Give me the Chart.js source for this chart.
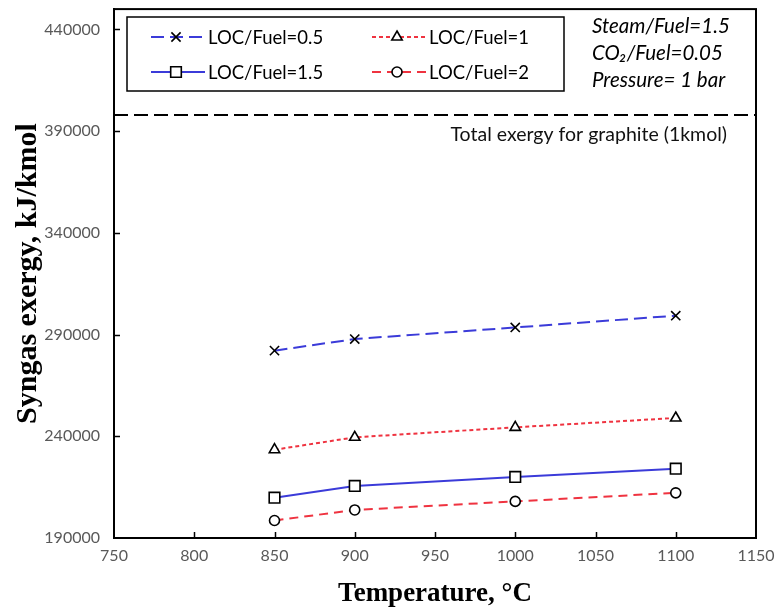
<!DOCTYPE html>
<html>
<head>
<meta charset="utf-8">
<script src="https://cdn.jsdelivr.net/npm/chart.js@4.4.1/dist/chart.umd.min.js"></script>
<style>
  html, body { margin: 0; padding: 0; background: #fff; }
</style>
</head>
<body>
<canvas id="exergyChart" width="779" height="614"></canvas>
<script>
// Syngas exergy vs. gasification temperature for several LOC/Fuel ratios
const temperatures = [850, 900, 1000, 1100];
const locFuel05 = [282100, 287800, 293500, 299300];
const locFuel1 = [233400, 239500, 244400, 249000];
const locFuel15 = [209800, 215600, 220000, 224100];
const locFuel2 = [198600, 203800, 208000, 212200];
const seriesLabels = ['LOC/Fuel=0.5', 'LOC/Fuel=1', 'LOC/Fuel=1.5', 'LOC/Fuel=2'];
const graphiteExergy = 398000;
const graphiteLabel = 'Total exergy for graphite (1kmol)';
const conditions = ['Steam/Fuel=1.5', 'CO\u2082/Fuel=0.05', 'Pressure= 1 bar'];
const xTicks = [750, 800, 850, 900, 950, 1000, 1050, 1100, 1150];
const yTicks = [190000, 240000, 290000, 340000, 390000, 440000];

const BLUE = '#3b3bd9';
const RED = '#ef3340';
const TEXT_FONT = 'Lato, "Open Sans", sans-serif';
const TITLE_FONT = '"Liberation Serif", "Times New Roman", serif';

function points(values) {
    return temperatures.map(function (t, i) { return { x: t, y: values[i] }; });
}

function series(label, values, color, dash, style, radius) {
    return {
        label: label,
        data: points(values),
        borderColor: color,
        borderWidth: 2,
        borderDash: dash,
        pointStyle: style,
        pointRadius: radius,
        pointBorderColor: '#000',
        pointBackgroundColor: '#fff',
        pointBorderWidth: 1.6,
        tension: 0
    };
}

const datasets = [
    series(seriesLabels[0], locFuel05, BLUE, [13, 6], 'crossRot', 6.5),
    series(seriesLabels[1], locFuel1, RED, [4, 3], 'triangle', 6),
    series(seriesLabels[2], locFuel15, BLUE, [], 'rect', 7.5),
    series(seriesLabels[3], locFuel2, RED, [9, 6], 'circle', 5),
    {
        label: 'graphite',
        data: [{ x: xTicks[0], y: graphiteExergy }, { x: xTicks[xTicks.length - 1], y: graphiteExergy }],
        borderColor: '#000',
        borderWidth: 2,
        borderDash: [14, 6],
        pointRadius: 0
    }
];

// keep the plot area where the axes put it, no extra room for edge labels
function noEdgePadding(scale) {
    scale.paddingTop = 0;
    scale.paddingBottom = 0;
    scale.paddingLeft = 0;
    scale.paddingRight = 0;
}

// box around the plot, inward tick marks, legend and the text notes
const decorations = {
    id: 'decorations',
    afterDraw: function (chart) {
        const ctx = chart.ctx;
        const a = chart.chartArea;
        const xs = chart.scales.x;
        const ys = chart.scales.y;
        ctx.save();
        ctx.strokeStyle = '#000';
        ctx.lineWidth = 2;
        ctx.strokeRect(a.left, a.top, a.right - a.left, a.bottom - a.top);

        ctx.lineWidth = 1.5;
        ctx.beginPath();
        xTicks.slice(1, -1).forEach(function (v) {
            const px = Math.round(xs.getPixelForValue(v)) + 0.5;
            ctx.moveTo(px, a.bottom);
            ctx.lineTo(px, a.bottom - 6);
        });
        yTicks.slice(1).forEach(function (v) {
            const py = Math.round(ys.getPixelForValue(v)) + 0.5;
            ctx.moveTo(a.left, py);
            ctx.lineTo(a.left + 6, py);
        });
        ctx.stroke();

        // legend
        ctx.lineWidth = 1.5;
        ctx.strokeRect(127, 17, 437, 74);
        ctx.font = '18.5px ' + TEXT_FONT;
        ctx.textBaseline = 'middle';
        ctx.textAlign = 'left';
        for (let i = 0; i < 4; i++) {
            const ds = chart.data.datasets[i];
            const col = i % 2;
            const row = Math.floor(i / 2);
            const x0 = col === 0 ? 151 : 372;
            const y0 = row === 0 ? 37 : 72;
            ctx.save();
            ctx.strokeStyle = ds.borderColor;
            ctx.lineWidth = 2;
            ctx.setLineDash(ds.borderDash);
            ctx.beginPath();
            ctx.moveTo(x0, y0);
            ctx.lineTo(x0 + 54, y0);
            ctx.stroke();
            ctx.restore();
            ctx.save();
            ctx.strokeStyle = '#000';
            ctx.fillStyle = '#fff';
            ctx.lineWidth = 1.6;
            Chart.helpers.drawPoint(ctx, {
                pointStyle: ds.pointStyle,
                radius: ds.pointRadius,
                rotation: 0,
                borderWidth: 1.6
            }, x0 + 25, y0);
            ctx.restore();
            ctx.fillStyle = '#000';
            ctx.fillText(ds.label, x0 + 57, y0 + 1);
        }

        // operating conditions
        ctx.font = 'italic 20.5px ' + TEXT_FONT;
        conditions.forEach(function (t, i) {
            ctx.fillText(t, 592, 26 + i * 27);
        });

        // graphite reference label
        ctx.font = '19.5px ' + TEXT_FONT;
        ctx.textAlign = 'right';
        ctx.fillStyle = '#111';
        ctx.fillText(graphiteLabel, 727, ys.getPixelForValue(graphiteExergy) + 20);
        ctx.restore();
    }
};

new Chart(document.getElementById('exergyChart'), {
    type: 'line',
    data: { datasets: datasets },
    options: {
        responsive: false,
        animation: false,
        devicePixelRatio: 1,
        layout: { padding: { top: 4, right: 23, left: 0, bottom: 0 } },
        plugins: {
            legend: { display: false },
            tooltip: { enabled: false }
        },
        scales: {
            x: {
                type: 'linear',
                min: 750,
                max: 1150,
                afterBuildTicks: function (scale) {
                    scale.ticks = xTicks.map(function (v) { return { value: v }; });
                },
                afterFit: function (scale) {
                    scale.height = 76;
                    noEdgePadding(scale);
                },
                grid: { display: false, drawTicks: false },
                border: { display: true, color: '#000', width: 2 },
                ticks: {
                    padding: 8,
                    color: '#595959',
                    font: { family: TEXT_FONT, size: 16 },
                    maxRotation: 0,
                    callback: function (v) { return String(v); }
                },
                title: {
                    display: true,
                    text: 'Temperature, \u00b0C',
                    color: '#000',
                    font: { family: TITLE_FONT, size: 27, weight: 'bold' },
                    padding: { top: 0, bottom: 4 }
                }
            },
            y: {
                min: 190000,
                max: 450000,
                afterBuildTicks: function (scale) {
                    scale.ticks = yTicks.map(function (v) { return { value: v }; });
                },
                afterFit: function (scale) {
                    scale.width = 114;
                    noEdgePadding(scale);
                },
                grid: { display: false, drawTicks: false },
                border: { display: true, color: '#000', width: 2 },
                ticks: {
                    padding: 14,
                    color: '#595959',
                    font: { family: TEXT_FONT, size: 16 },
                    callback: function (v) { return String(v); }
                },
                title: {
                    display: true,
                    text: 'Syngas exergy, kJ/kmol',
                    color: '#000',
                    font: { family: TITLE_FONT, size: 30, weight: 'bold' },
                    padding: { top: 10, bottom: 0 }
                }
            }
        }
    },
    plugins: [decorations]
});
</script>
</body>
</html>
